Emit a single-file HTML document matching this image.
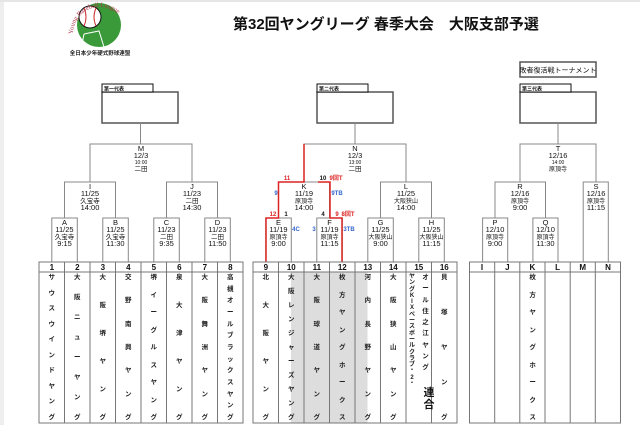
<!DOCTYPE html>
<html><head><meta charset="utf-8"><style>
*{margin:0;padding:0;box-sizing:border-box}
body{width:640px;height:425px;overflow:hidden;background:#fff;position:relative;font-family:"Liberation Sans","Noto Sans CJK JP",sans-serif}
.strip{position:absolute;left:0;top:0;width:4px;height:425px;background:#eee}
.top{position:absolute;left:0;top:0;width:640px;height:2px;background:#e6e6e6}
.title{position:absolute;left:233px;top:13px;font-size:15px;font-weight:bold;color:#111;white-space:nowrap}
.col{position:absolute;top:272px;height:150px;display:flex;flex-direction:column;justify-content:space-between;align-items:center;font-size:6.5px;font-weight:bold;line-height:7px;padding:2px 0 1px;color:#222}
svg{position:absolute;left:0;top:0}
</style></head><body>
<div class="strip"></div><div class="top"></div>
<div class="title">第32回ヤングリーグ 春季大会　大阪支部予選</div>
<svg width="640" height="425" viewBox="0 0 640 425" font-family="Liberation Sans, Noto Sans CJK JP, sans-serif">
<!-- logo -->
<circle cx="99" cy="25" r="22" fill="#3a9a3a"/>
<path d="M84 34 L99 31 L104 47 M84 34 L82 44" stroke="#fff" stroke-width="1" fill="none"/>
<circle cx="90" cy="17" r="11" fill="#fff" stroke="#111" stroke-width="1"/>
<path d="M84 8 Q88 17 84 26 M96 8 Q92 17 96 26" stroke="#c33" stroke-width="1" fill="none"/>
<path id="arc" d="M73 34 A27 27 0 0 1 127 34" fill="none"/>
<text font-family="Liberation Serif, serif" font-size="6.5" fill="#b3344a"><textPath href="#arc">Young Baseball League</textPath></text>
<text x="100" y="55" font-size="5.5" text-anchor="middle" font-weight="bold" fill="#222">全日本少年硬式野球連盟</text>

<!-- rep boxes -->
<g stroke="#555" fill="#fff" stroke-width="1.5">
<rect x="102" y="92" width="76" height="31"/><rect x="317" y="92" width="76" height="31"/><rect x="520" y="92" width="76" height="31"/>
<rect x="520" y="62" width="76" height="15"/>
</g>
<g stroke="#111" fill="#fff" stroke-width="1">
<rect x="102" y="84" width="51" height="8"/><rect x="317" y="84" width="51" height="8"/><rect x="520" y="84" width="51" height="8"/>
</g>
<g font-size="5" font-weight="bold" fill="#111">
<text x="104" y="90.5">第一代表</text><text x="319" y="90.5">第二代表</text><text x="522" y="90.5">第三代表</text>
</g>
<text x="558" y="72.5" font-size="7" text-anchor="middle" fill="#111">敗者復活戦トーナメント</text>

<!-- bracket lines -->
<g stroke="#888" fill="none" stroke-width="1">
<path d="M140.5 123V144"/><path d="M355 123V144"/><path d="M558 123V144"/>
<path d="M51.8 262V218H77.3V262"/><path d="M102.8 262V218H128.3V262"/><path d="M153.8 262V218H179.3V262"/><path d="M204.8 262V218H230.3V262"/>
<path d="M64.5 218V182H115.5V218"/><path d="M166.5 218V182H217.5V218"/>
<path d="M90 182V144H192V182"/>
<path d="M265.8 262V218H291.3V262"/><path d="M316.8 262V218H342.3V262"/><path d="M367.8 262V218H393.3V262"/><path d="M418.8 262V218H444.3V262"/>
<path d="M278.5 218V182H329.5V218"/><path d="M380.5 218V182H431.5V218"/>
<path d="M304 182V144H406V182"/>
<path d="M482.6 262V218H507.7V262"/><path d="M532.9 262V218H558V262"/>
<path d="M495 218V182H545.5V218"/><path d="M583.2 262V182H608.3V262"/>
<path d="M520 182V144H596V182"/>
</g>
<g stroke="#d22" fill="none" stroke-width="1.5">
<path d="M266 262V218H278.5V182H304V144"/>
<path d="M342 262V218H330V182H318"/>
</g>
<g font-size="6" font-weight="bold">
<text x="287" y="180" fill="#d22" text-anchor="middle">11</text>
<text x="323" y="180" fill="#111" text-anchor="middle">10</text>
<text x="336" y="180" fill="#d22" text-anchor="middle">9回T</text>
<text x="276" y="195" fill="#36c" text-anchor="middle">9</text>
<text x="337" y="195" fill="#36c" text-anchor="middle">9TB</text>
<text x="273" y="216" fill="#d22" text-anchor="middle">12</text>
<text x="286" y="216" fill="#111" text-anchor="middle">1</text>
<text x="323" y="216" fill="#111" text-anchor="middle">4</text>
<text x="337" y="216" fill="#d22" text-anchor="middle">9</text>
<text x="348" y="216" fill="#d22" text-anchor="middle">8回T</text>
<text x="296" y="231" fill="#36c" text-anchor="middle">4C</text>
<text x="314" y="231" fill="#36c" text-anchor="middle">3</text>
<text x="349" y="231" fill="#36c" text-anchor="middle">3TB</text>
</g>
<g font-size="7.5" fill="#111" text-anchor="middle">
<g transform="translate(64.5,218)"><text y="7">A</text><text y="14">11/25</text><text y="21" font-size="6.5">久宝寺</text><text y="28">9:15</text></g>
<g transform="translate(115.5,218)"><text y="7">B</text><text y="14">11/25</text><text y="21" font-size="6.5">久宝寺</text><text y="28">11:30</text></g>
<g transform="translate(166.5,218)"><text y="7">C</text><text y="14">11/23</text><text y="21" font-size="6.5">二田</text><text y="28">9:35</text></g>
<g transform="translate(217.5,218)"><text y="7">D</text><text y="14">11/23</text><text y="21" font-size="6.5">二田</text><text y="28">11:50</text></g>
<g transform="translate(90,182)"><text y="7">I</text><text y="14">11/25</text><text y="21" font-size="6.5">久宝寺</text><text y="28">14:00</text></g>
<g transform="translate(192,182)"><text y="7">J</text><text y="14">11/23</text><text y="21" font-size="6.5">二田</text><text y="28">14:30</text></g>
<g transform="translate(141,144)"><text y="7">M</text><text y="14">12/3</text><text y="20" font-size="5">10:00</text><text y="27" font-size="6.5">二田</text></g>
<g transform="translate(278.5,218)"><text y="7">E</text><text y="14">11/19</text><text y="21" font-size="6">原頂寺</text><text y="28">9:00</text></g>
<g transform="translate(329.5,218)"><text y="7">F</text><text y="14">11/19</text><text y="21" font-size="6">原頂寺</text><text y="28">11:15</text></g>
<g transform="translate(380.5,218)"><text y="7">G</text><text y="14">11/25</text><text y="21" font-size="6">大阪狭山</text><text y="28">9:00</text></g>
<g transform="translate(431.5,218)"><text y="7">H</text><text y="14">11/25</text><text y="21" font-size="6">大阪狭山</text><text y="28">11:15</text></g>
<g transform="translate(304,182)"><text y="7">K</text><text y="14">11/19</text><text y="21" font-size="6">原頂寺</text><text y="28">14:00</text></g>
<g transform="translate(406,182)"><text y="7">L</text><text y="14">11/25</text><text y="21" font-size="6">大阪狭山</text><text y="28">14:00</text></g>
<g transform="translate(355,144)"><text y="7">N</text><text y="14">12/3</text><text y="20" font-size="5">13:00</text><text y="27" font-size="6.5">二田</text></g>
<g transform="translate(495,218)"><text y="7">P</text><text y="14">12/10</text><text y="21" font-size="6">原頂寺</text><text y="28">9:00</text></g>
<g transform="translate(545.5,218)"><text y="7">Q</text><text y="14">12/10</text><text y="21" font-size="6">原頂寺</text><text y="28">11:30</text></g>
<g transform="translate(520,182)"><text y="7">R</text><text y="14">12/16</text><text y="21" font-size="6">原頂寺</text><text y="28">9:00</text></g>
<g transform="translate(596,182)"><text y="7">S</text><text y="14">12/16</text><text y="21" font-size="6">原頂寺</text><text y="28">11:15</text></g>
<g transform="translate(558,144)"><text y="7">T</text><text y="14">12/16</text><text y="20" font-size="5">14:00</text><text y="27" font-size="6">原頂寺</text></g>
</g>

<rect x="291" y="272" width="76.5" height="151" fill="#ddd"/>
<g stroke="#777" fill="none" stroke-width="1">
<rect x="39" y="262" width="204" height="161"/>
<rect x="253" y="262" width="204" height="161"/>
<rect x="469.5" y="262" width="151" height="161"/>
<path d="M39 272H243M253 272H457M469.5 272H620.5"/>
<path d="M64.5 262V423M90 262V423M115.5 262V423M141 262V423M166.5 262V423M192 262V423M217.5 262V423"/>
<path d="M278.5 262V423M304 262V423M329.5 262V423M355 262V423M380.5 262V423M406 262V423M431.5 262V423"/>
<path d="M494.7 262V423M519.8 262V423M545 262V423M570.2 262V423M595.3 262V423"/>
</g>
<g font-size="8" font-weight="bold" fill="#111" text-anchor="middle">
<text x="51.8" y="270">1</text><text x="77.3" y="270">2</text><text x="102.8" y="270">3</text><text x="128.3" y="270">4</text><text x="153.8" y="270">5</text><text x="179.3" y="270">6</text><text x="204.8" y="270">7</text><text x="230.3" y="270">8</text>
<text x="265.8" y="270">9</text><text x="291.3" y="270">10</text><text x="316.8" y="270">11</text><text x="342.3" y="270">12</text><text x="367.8" y="270">13</text><text x="393.3" y="270">14</text><text x="418.8" y="270">15</text><text x="444.3" y="270">16</text>
<text x="482" y="270">I</text><text x="507.3" y="270">J</text><text x="532.4" y="270">K</text><text x="557.6" y="270">L</text><text x="582.7" y="270">M</text><text x="608" y="270">N</text>
</g>
<text x="429" y="396" font-size="11" font-weight="bold" text-anchor="middle" fill="#111">連</text>
<text x="429" y="408" font-size="11" font-weight="bold" text-anchor="middle" fill="#111">合</text>
</svg>

<div class="col" style="left:39px;width:25.5px"><span>サ</span><span>ウ</span><span>ス</span><span>ウ</span><span>イ</span><span>ン</span><span>ド</span><span>ヤ</span><span>ン</span><span>グ</span></div>
<div class="col" style="left:64.5px;width:25.5px"><span>大</span><span>阪</span><span>ニ</span><span>ュ</span><span>ー</span><span>ヤ</span><span>ン</span><span>グ</span></div>
<div class="col" style="left:90px;width:25.5px"><span>大</span><span>阪</span><span>堺</span><span>ヤ</span><span>ン</span><span>グ</span></div>
<div class="col" style="left:115.5px;width:25.5px"><span>交</span><span>野</span><span>南</span><span>興</span><span>ヤ</span><span>ン</span><span>グ</span></div>
<div class="col" style="left:141px;width:25.5px"><span>堺</span><span>イ</span><span>ー</span><span>グ</span><span>ル</span><span>ス</span><span>ヤ</span><span>ン</span><span>グ</span></div>
<div class="col" style="left:166.5px;width:25.5px"><span>泉</span><span>大</span><span>津</span><span>ヤ</span><span>ン</span><span>グ</span></div>
<div class="col" style="left:192px;width:25.5px"><span>大</span><span>阪</span><span>舞</span><span>洲</span><span>ヤ</span><span>ン</span><span>グ</span></div>
<div class="col" style="left:217.5px;width:25.5px"><span>高</span><span>槻</span><span>オ</span><span>ー</span><span>ル</span><span>ブ</span><span>ラ</span><span>ッ</span><span>ク</span><span>ス</span><span>ヤ</span><span>ン</span><span>グ</span></div>
<div class="col" style="left:253px;width:25.5px"><span>北</span><span>大</span><span>阪</span><span>ヤ</span><span>ン</span><span>グ</span></div>
<div class="col" style="left:278.5px;width:25.5px"><span>大</span><span>阪</span><span>レ</span><span>ン</span><span>ジ</span><span>ャ</span><span>ー</span><span>ズ</span><span>ヤ</span><span>ン</span><span>グ</span></div>
<div class="col" style="left:304px;width:25.5px"><span>大</span><span>阪</span><span>球</span><span>道</span><span>ヤ</span><span>ン</span><span>グ</span></div>
<div class="col" style="left:329.5px;width:25.5px"><span>枚</span><span>方</span><span>ヤ</span><span>ン</span><span>グ</span><span>ホ</span><span>ー</span><span>ク</span><span>ス</span></div>
<div class="col" style="left:355px;width:25.5px"><span>河</span><span>内</span><span>長</span><span>野</span><span>ヤ</span><span>ン</span><span>グ</span></div>
<div class="col" style="left:380.5px;width:25.5px"><span>大</span><span>阪</span><span>狭</span><span>山</span><span>ヤ</span><span>ン</span><span>グ</span></div>
<div class="col" style="left:406px;width:12px;height:108px;font-size:6px;line-height:6.3px"><span>ヤ</span><span>ン</span><span>グ</span><span>K</span><span>I</span><span>X</span><span>ベ</span><span>ー</span><span>ス</span><span>ボ</span><span>ー</span><span>ル</span><span>ク</span><span>ラ</span><span>ブ</span><span>・</span><span>2</span><span>・</span></div>
<div class="col" style="left:419px;width:13px;height:100px"><span>オ</span><span>ー</span><span>ル</span><span>住</span><span>之</span><span>江</span><span>ヤ</span><span>ン</span><span>グ</span></div>
<div class="col" style="left:431.5px;width:25.5px"><span>貝</span><span>塚</span><span>ヤ</span><span>ン</span><span>グ</span></div>
<div class="col" style="left:520px;width:25.2px"><span>枚</span><span>方</span><span>ヤ</span><span>ン</span><span>グ</span><span>ホ</span><span>ー</span><span>ク</span><span>ス</span></div>
</body></html>
